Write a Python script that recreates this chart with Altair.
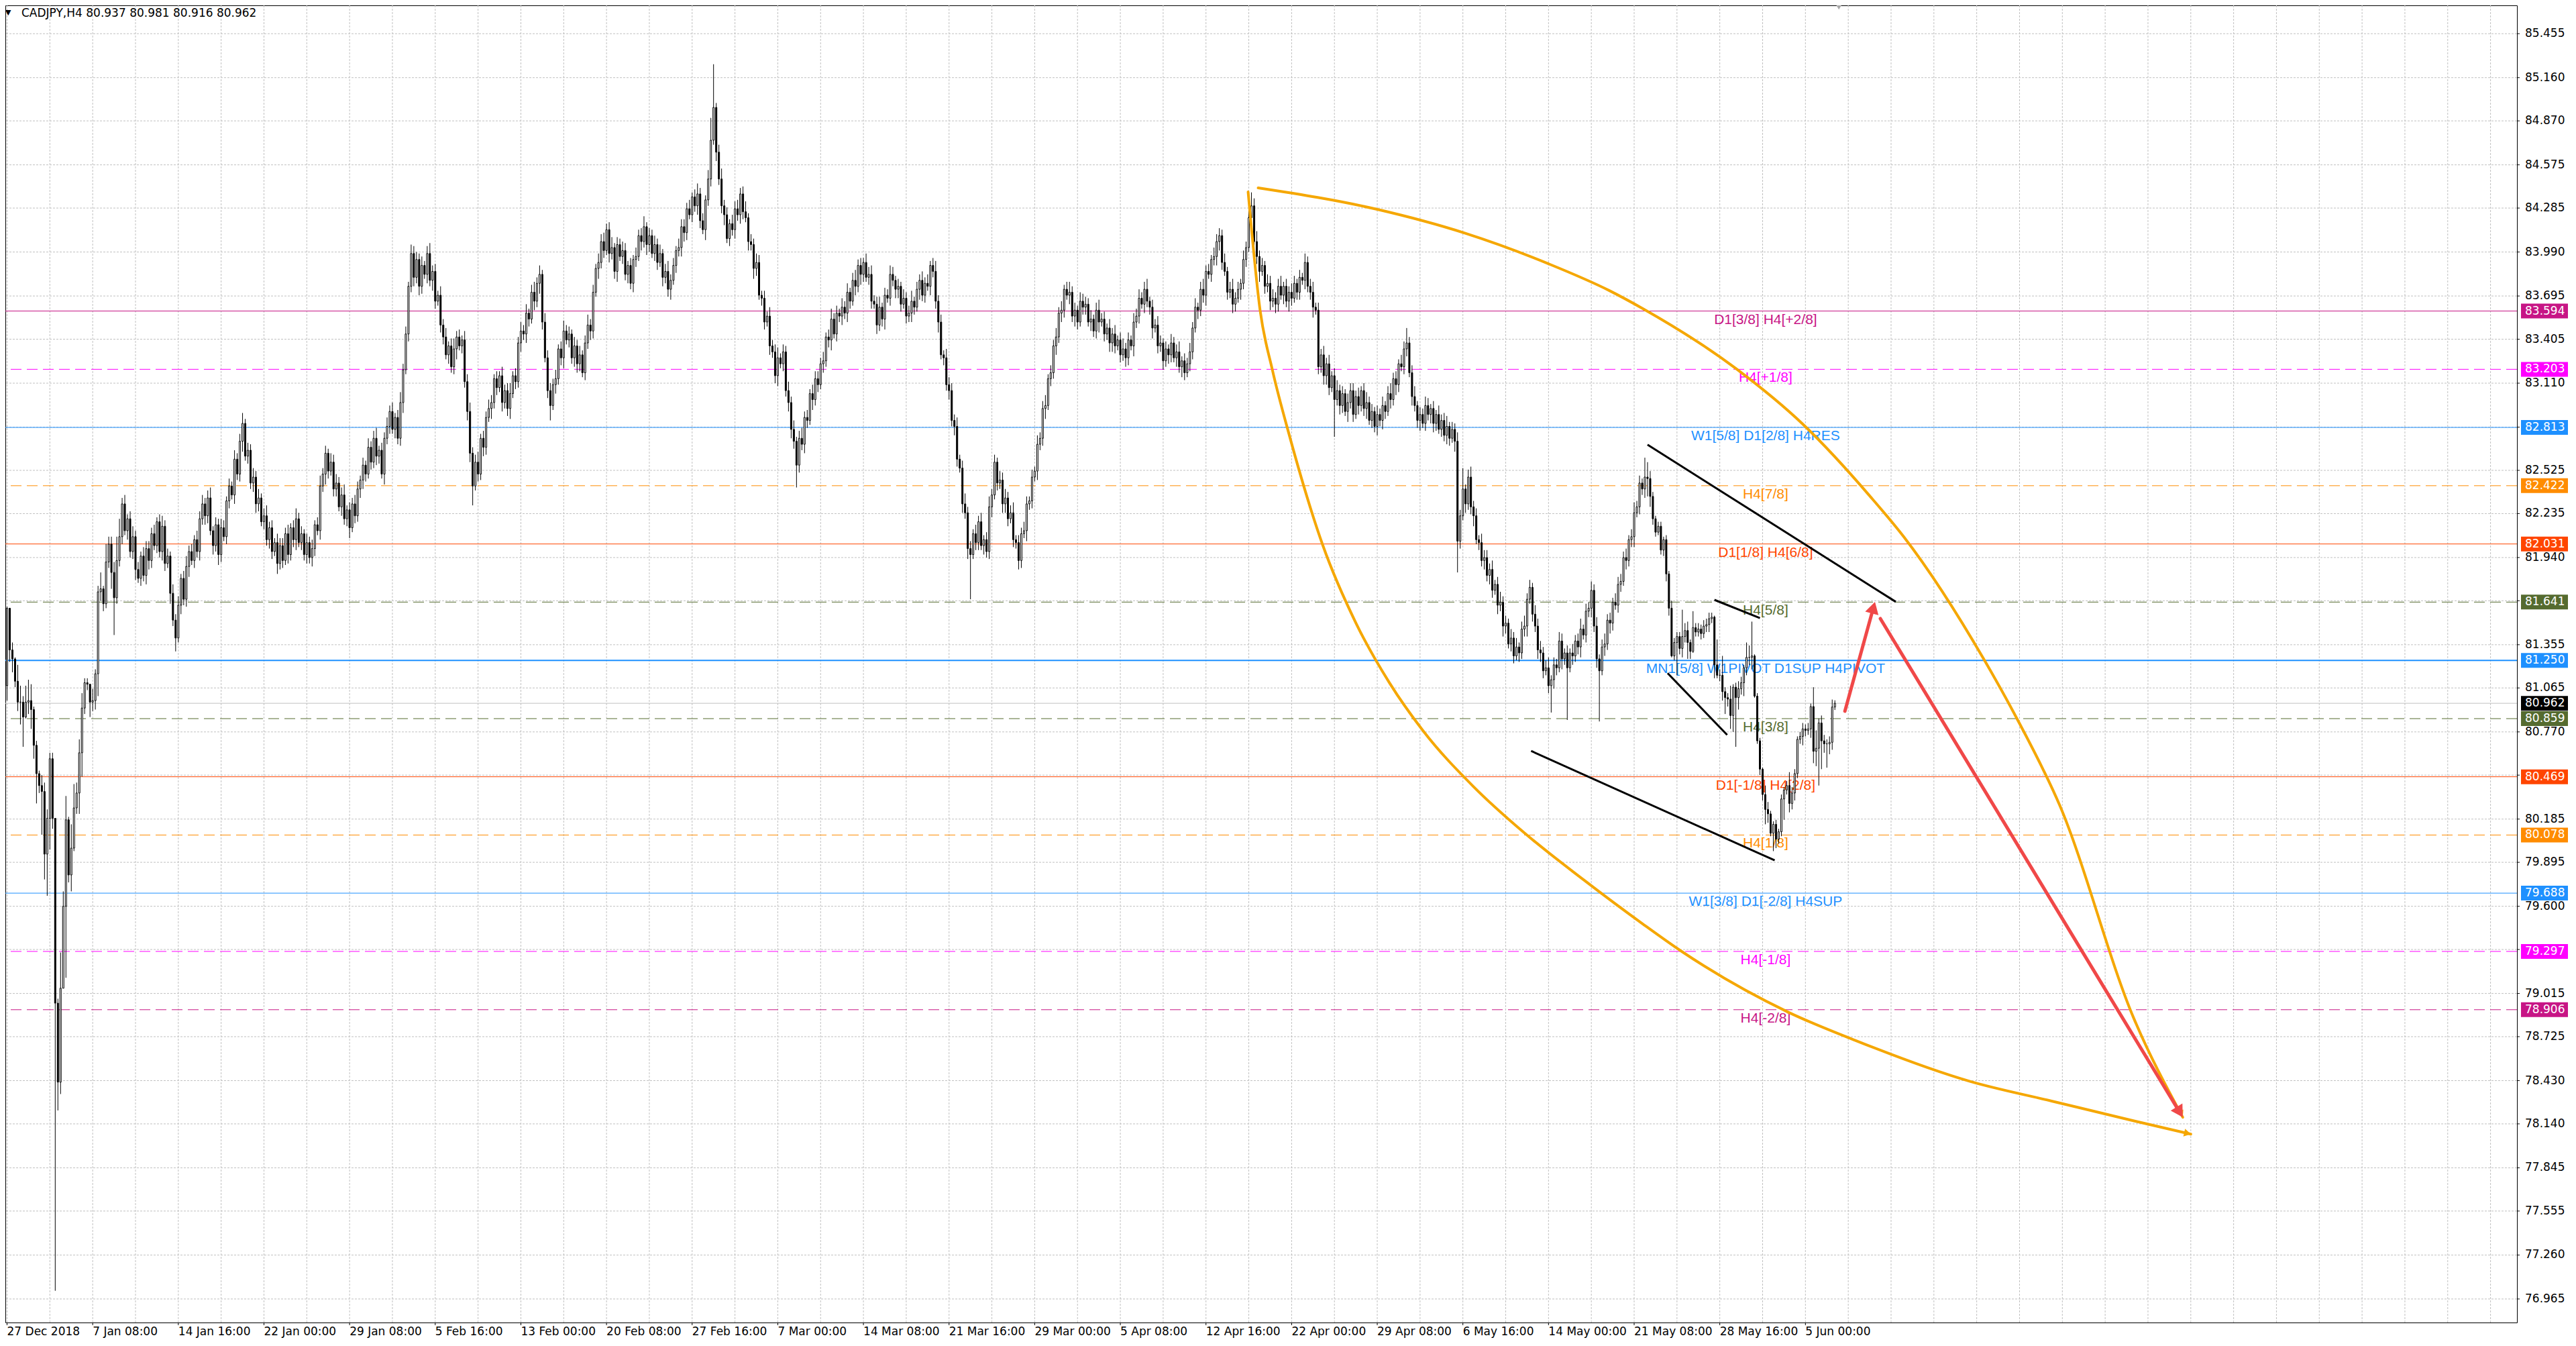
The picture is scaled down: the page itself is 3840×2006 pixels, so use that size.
import math
import altair as alt
import pandas as pd

# ------------------------------------------------------------------ data
title_text = "CADJPY,H4  80.937 80.981 80.916 80.962"

first_open = 81.08
closes = [
    81.60, 81.32, 81.26, 81.11, 80.97, 80.97, 80.87, 80.97, 80.98, 80.92,
    80.68, 80.49, 80.41, 80.37, 79.95, 80.19, 80.59, 80.19, 78.95, 78.42,
    79.05, 79.60, 80.18, 79.81, 79.99, 80.26, 80.36, 80.63, 80.93, 81.10,
    81.09, 80.97, 80.98, 81.16, 81.71, 81.73, 81.63, 81.91, 82.03, 81.84,
    81.67, 81.92, 82.08,
    82.30, 82.12, 82.20, 81.98, 82.08, 81.86, 81.80, 81.95, 81.82, 82.00,
    81.92, 82.10, 82.02, 82.18, 81.98, 82.15, 81.90, 81.95, 81.70, 81.52,
    81.40, 81.62, 81.80, 81.66, 81.88, 81.98, 81.92, 82.06, 81.98, 82.20,
    82.30, 82.22, 82.34, 82.12, 82.02, 82.16, 81.96, 82.14, 82.08, 82.32,
    82.42, 82.36, 82.60, 82.50, 82.72, 82.84, 82.62, 82.66, 82.44, 82.48,
    82.30, 82.34, 82.18, 82.22, 82.06, 82.14, 81.98, 82.04, 81.90, 82.02,
    81.92, 82.10, 81.96, 82.14, 82.06, 82.20, 82.04, 82.10, 81.96, 82.04,
    81.94, 82.00, 82.16, 82.12, 82.42, 82.50, 82.64, 82.52, 82.58, 82.40,
    82.44, 82.28, 82.36, 82.20, 82.26, 82.14, 82.30, 82.22, 82.40, 82.46,
    82.56, 82.50, 82.68, 82.58, 82.74, 82.62, 82.66, 82.50, 82.74, 82.82,
    82.92, 82.80, 82.88, 82.74, 82.98, 83.20, 83.44, 83.76, 83.98, 83.82,
    83.94, 83.76, 83.90, 83.84, 83.98, 83.80, 83.86, 83.66, 83.70, 83.50,
    83.42, 83.30, 83.36, 83.22, 83.34, 83.42, 83.36, 83.40, 83.12, 82.92,
    82.64, 82.42, 82.58, 82.50, 82.74, 82.68, 82.88, 82.94, 82.98, 83.14,
    83.08, 83.16, 82.98, 83.06, 82.94, 83.04, 83.16, 83.12, 83.38, 83.46,
    83.44, 83.58, 83.54, 83.72, 83.66, 83.78, 83.84, 83.52, 83.28, 83.06,
    82.96, 83.10, 83.14, 83.34, 83.28, 83.46, 83.40, 83.44, 83.28, 83.36,
    83.24, 83.30, 83.18, 83.38, 83.50, 83.46, 83.72, 83.88, 83.92, 84.06,
    84.00, 84.14, 83.98, 84.02, 83.86, 84.04, 83.96, 84.00, 83.84, 83.90,
    83.78, 83.94, 83.96, 84.10, 84.06, 84.16, 84.04, 84.10, 83.98, 84.04,
    83.92, 83.98, 83.82, 83.86, 83.74, 83.80, 83.90, 84.00, 84.02, 84.16,
    84.12, 84.28, 84.24, 84.36, 84.30, 84.38, 84.20, 84.14, 84.34, 84.48,
    84.74, 84.96, 84.66, 84.48, 84.30, 84.24, 84.08, 84.18, 84.14, 84.28,
    84.24, 84.38, 84.26, 84.22, 84.06, 84.04, 83.88, 83.92, 83.70, 83.68,
    83.52, 83.56, 83.36, 83.32, 83.16, 83.28, 83.24, 83.32, 83.06, 82.98,
    82.80, 82.72, 82.56, 82.74, 82.70, 82.88, 82.86, 83.04, 83.00, 83.14,
    83.10, 83.24, 83.26, 83.42, 83.40, 83.54, 83.44, 83.58, 83.56, 83.62,
    83.58, 83.72, 83.66, 83.80, 83.76, 83.90, 83.84, 83.92, 83.82, 83.84,
    83.66, 83.64, 83.50, 83.62, 83.54, 83.70, 83.68, 83.84, 83.80, 83.74,
    83.76, 83.64, 83.68, 83.56, 83.58, 83.66, 83.62, 83.74, 83.80, 83.70,
    83.78, 83.76, 83.90, 83.86, 83.66, 83.52, 83.30, 83.28, 83.10, 83.06,
    82.86, 82.82, 82.60, 82.54, 82.30, 82.24, 82.00, 81.96, 82.10, 82.04,
    82.18, 82.02, 82.06, 81.98, 82.28, 82.36, 82.58, 82.44, 82.46, 82.30,
    82.34, 82.20, 82.24, 82.06, 82.04, 81.92, 82.10, 82.12, 82.30, 82.32,
    82.48, 82.52, 82.70, 82.74, 82.94, 82.96, 83.14, 83.18, 83.36, 83.42,
    83.58, 83.60, 83.74, 83.70, 83.72, 83.56, 83.60, 83.52, 83.66, 83.62,
    83.64, 83.52, 83.54, 83.46, 83.60, 83.52, 83.54, 83.44, 83.48, 83.38,
    83.44, 83.36, 83.40, 83.30, 83.34, 83.28, 83.40, 83.36, 83.52, 83.56,
    83.68, 83.64, 83.74, 83.66, 83.62, 83.48, 83.50, 83.36, 83.38, 83.26,
    83.34, 83.30, 83.38, 83.28, 83.32, 83.22, 83.26, 83.18, 83.24, 83.32,
    83.48, 83.62, 83.60, 83.74, 83.70, 83.86, 83.84, 83.94, 83.96, 84.06,
    84.10, 83.92, 83.86, 83.72, 83.74, 83.64, 83.68, 83.74, 83.78, 83.94,
    84.02, 84.22, 84.30, 84.06, 83.96, 83.86, 83.90, 83.76, 83.78, 83.66,
    83.68, 83.64, 83.76, 83.70, 83.76, 83.66, 83.72, 83.68, 83.78, 83.72,
    83.82, 83.80, 83.92, 83.76, 83.72, 83.62, 83.60, 83.22, 83.30, 83.16,
    83.24, 83.08, 83.16, 83.00, 83.06, 82.96, 83.04, 82.92, 82.98, 83.06,
    82.90, 83.02, 82.96, 83.06, 82.94, 82.98, 82.86, 82.92, 82.82, 82.90,
    82.86, 82.96, 82.92, 83.04, 83.00, 83.14, 83.10, 83.24, 83.22, 83.34,
    83.38, 83.18, 83.02, 82.96, 82.86, 82.90, 82.84, 82.96, 82.90, 82.94,
    82.84, 82.90, 82.80, 82.86, 82.76, 82.82, 82.74, 82.80, 82.72, 82.05,
    82.22, 82.40, 82.30, 82.48, 82.28, 82.22, 82.06, 82.04, 81.92, 81.94,
    81.82, 81.86, 81.72, 81.76, 81.62, 81.64, 81.48, 81.50, 81.36, 81.40,
    81.28, 81.34, 81.30, 81.46, 81.48, 81.66, 81.74, 81.56, 81.48, 81.32,
    81.30, 81.18, 81.20, 81.08, 81.12, 81.22, 81.20, 81.38, 81.26, 81.30,
    81.20, 81.30, 81.28, 81.38, 81.34, 81.46, 81.42, 81.58, 81.60, 81.72,
    81.48, 81.26, 81.18, 81.34, 81.36, 81.52, 81.50, 81.64, 81.62, 81.76,
    81.78, 81.94, 81.92, 82.06, 82.08, 82.24, 82.28, 82.44, 82.40, 82.48,
    82.47, 82.35, 82.20, 82.11, 82.15, 81.99, 82.06, 81.83, 81.60, 81.28,
    81.37, 81.41, 81.33, 81.41, 81.45, 81.37, 81.31, 81.47, 81.44, 81.46,
    81.43, 81.48, 81.49, 81.53, 81.54, 81.22, 81.15, 81.15, 81.04, 81.00,
    80.99, 80.88, 81.07, 81.00, 81.06, 81.10, 81.20, 81.27, 81.27, 81.28,
    81.01, 80.71, 80.52, 80.35, 80.25, 80.22, 80.09, 80.15, 80.05, 80.10,
    80.32, 80.38, 80.41, 80.29, 80.36, 80.49, 80.72, 80.74, 80.79, 80.78,
    80.79, 80.94, 80.64, 80.66, 80.83, 80.71, 80.69, 80.69, 80.70, 80.937,
    80.962,
]

# wick lengths above / below the body, in hundredths of a yen
wick_up = [
    1, 0, 5, 1, 11, 11, 4, 11, 14, 11, 2, 3, 2, 7, 6, 6, 4, 4, 0, 3,
    24, 10, 16, 2, 16, 16, 7, 9, 10, 3, 3, 0, 8, 3, 4, 11, 2, 12, 5, 5,
    7, 16, 12,
    4, 6, 3, 5, 7, 4, 5, 3, 6, 5,
    5, 4, 6, 3, 5, 7, 4, 5, 3, 6,
    4, 6, 3, 5, 7, 4, 5, 3, 6, 5,
    6, 4, 5, 7, 3, 5, 4, 6, 5, 3,
    5, 3, 6, 4, 5, 7, 3, 5, 4, 6,
    4, 6, 3, 5, 7, 4, 5, 3, 6, 5,
    5, 4, 6, 3, 5, 7, 4, 5, 3, 6,
    4, 6, 3, 5, 7, 4, 5, 3, 6, 5,
    6, 4, 5, 7, 3, 5, 4, 6, 5, 3,
    5, 3, 6, 4, 5, 7, 3, 5, 4, 6,
    4, 6, 3, 5, 7, 4, 5, 3, 6, 5,
    5, 4, 6, 3, 5, 7, 4, 5, 3, 6,
    4, 6, 3, 5, 7, 4, 5, 3, 6, 5,
    6, 4, 5, 7, 3, 5, 4, 6, 5, 3,
    5, 3, 6, 4, 5, 7, 3, 5, 4, 6,
    4, 6, 3, 5, 7, 4, 6, 3, 6, 5,
    5, 4, 6, 3, 5, 7, 4, 5, 3, 6,
    4, 6, 3, 5, 7, 4, 5, 3, 6, 5,
    6, 4, 5, 7, 3, 5, 4, 6, 5, 3,
    5, 3, 6, 4, 5, 7, 3, 5, 4, 6,
    4, 6, 3, 5, 7, 4, 5, 3, 6, 5,
    5, 4, 6, 3, 5, 7, 4, 5, 3, 6,
    15, 29, 3, 5, 7, 4, 5, 3, 6, 5,
    6, 4, 5, 7, 3, 5, 4, 6, 5, 3,
    5, 3, 6, 4, 5, 7, 3, 5, 4, 6,
    4, 6, 3, 5, 7, 4, 5, 3, 6, 5,
    5, 4, 6, 3, 5, 7, 4, 5, 3, 6,
    4, 6, 3, 5, 7, 4, 5, 3, 6, 5,
    6, 4, 5, 7, 3, 5, 4, 6, 5, 3,
    5, 3, 6, 4, 5, 7, 3, 5, 4, 6,
    4, 6, 3, 5, 7, 4, 5, 3, 6, 5,
    5, 4, 6, 3, 5, 7, 4, 5, 3, 6,
    4, 6, 3, 5, 7, 4, 5, 3, 6, 5,
    6, 4, 5, 7, 3, 5, 4, 6, 5, 3,
    5, 3, 6, 4, 5, 7, 3, 5, 4, 6,
    4, 6, 3, 5, 7, 4, 5, 3, 6, 5,
    5, 4, 6, 3, 5, 7, 4, 5, 3, 6,
    4, 6, 3, 5, 7, 4, 5, 3, 6, 5,
    6, 4, 5, 7, 3, 5, 4, 6, 5, 3,
    5, 3, 6, 4, 5, 7, 3, 5, 4, 6,
    4, 6, 3, 5, 7, 4, 5, 3, 6, 5,
    5, 4, 6, 3, 5, 7, 4, 5, 3, 6,
    4, 6, 9, 5, 7, 4, 5, 3, 6, 5,
    6, 4, 5, 7, 3, 5, 4, 6, 5, 3,
    5, 3, 6, 4, 5, 7, 3, 5, 4, 6,
    4, 6, 3, 5, 7, 4, 5, 3, 6, 5,
    5, 4, 6, 3, 5, 7, 4, 5, 3, 6,
    4, 6, 3, 5, 7, 4, 5, 3, 6, 5,
    10, 4, 5, 7, 3, 5, 4, 6, 5, 3,
    5, 3, 6, 4, 5, 7, 3, 5, 4, 6,
    4, 14, 3, 5, 7, 4, 5, 3, 6, 5,
    5, 4, 6, 3, 5, 7, 4, 5, 3, 6,
    4, 6, 3, 5, 7, 4, 5, 3, 6, 5,
    6, 4, 5, 7, 3, 5, 4, 6, 5, 3,
    5, 3, 6, 4, 5, 7, 3, 5, 4, 6,
    4, 6, 3, 5, 7, 4, 5, 3, 6, 5,
    5, 4, 6, 3, 5, 7, 4, 5, 3, 13,
    10, 5, 3, 2, 3, 3, 2, 3, 2, 5,
    3, 3, 3, 18, 5, 6, 2, 11, 3, 4,
    3, 4, 4, 4, 3, 1, 17, 4, 13, 3,
    3, 9, 2, 3, 5, 4, 2, 10, 8, 23,
    1, 2, 2, 1, 6, 5, 2, 2, 3, 2,
    3, 2, 3, 9, 4, 3, 2, 3, 4, 3,
    4, 2, 13, 12, 3, 5, 4, 3, 4, 5, 2,
]
wick_down = [
    10, 8, 9, 4, 6, 15, 20, 1, 8, 13, 9, 20, 5, 29, 17, 28, 21, 7, 193, 19,
    8, 0, 48, 5, 11, 2, 4, 14, 16, 4, 4, 10, 6, 6, 15, 6, 5, 3, 4, 11,
    25, 4, 4,
    5, 3, 6, 4, 5, 7, 3, 5, 4, 6,
    6, 5, 3, 5, 4, 6, 5, 3, 7, 4,
    9, 3, 6, 4, 5, 7, 3, 5, 4, 6,
    4, 6, 5, 3, 6, 4, 7, 5, 3, 5,
    5, 3, 6, 4, 5, 7, 3, 5, 4, 6,
    6, 5, 3, 5, 4, 6, 5, 3, 7, 4,
    5, 3, 6, 4, 5, 7, 3, 5, 4, 6,
    4, 6, 5, 3, 6, 4, 7, 5, 3, 5,
    5, 3, 6, 4, 5, 7, 3, 5, 4, 6,
    6, 5, 3, 5, 4, 6, 5, 3, 7, 4,
    5, 3, 6, 4, 5, 7, 3, 5, 4, 6,
    4, 6, 5, 3, 6, 4, 7, 5, 3, 5,
    5, 3, 6, 4, 5, 7, 3, 5, 4, 6,
    6, 13, 3, 5, 4, 6, 5, 3, 7, 4,
    5, 3, 6, 4, 5, 7, 3, 5, 4, 6,
    4, 6, 5, 3, 6, 4, 7, 5, 3, 5,
    10, 3, 6, 4, 5, 7, 3, 5, 4, 6,
    6, 5, 3, 5, 4, 6, 5, 3, 7, 4,
    5, 3, 6, 4, 5, 7, 3, 5, 4, 6,
    4, 6, 5, 3, 6, 4, 7, 5, 3, 5,
    5, 3, 6, 4, 5, 7, 3, 5, 4, 6,
    6, 5, 3, 5, 4, 6, 5, 3, 7, 4,
    5, 3, 6, 4, 5, 7, 3, 5, 4, 6,
    4, 6, 5, 3, 6, 4, 7, 5, 3, 5,
    5, 3, 6, 4, 5, 7, 3, 5, 4, 6,
    6, 5, 15, 5, 4, 6, 5, 3, 7, 4,
    5, 3, 6, 4, 5, 7, 3, 5, 4, 6,
    4, 6, 5, 3, 6, 4, 7, 5, 3, 5,
    5, 3, 6, 4, 5, 7, 3, 5, 4, 6,
    6, 5, 3, 5, 4, 6, 5, 3, 7, 4,
    5, 3, 6, 4, 5, 7, 3, 5, 4, 6,
    4, 6, 5, 3, 6, 4, 7, 30, 3, 5,
    5, 3, 6, 4, 5, 7, 3, 5, 4, 6,
    6, 5, 3, 5, 4, 6, 5, 3, 7, 4,
    5, 3, 6, 4, 5, 7, 3, 5, 4, 6,
    4, 6, 5, 3, 6, 4, 7, 5, 3, 5,
    5, 3, 6, 4, 5, 7, 3, 5, 4, 6,
    6, 5, 3, 5, 4, 6, 5, 3, 7, 4,
    5, 3, 6, 4, 5, 7, 3, 5, 4, 6,
    4, 6, 5, 3, 6, 4, 7, 5, 3, 5,
    5, 3, 6, 4, 5, 7, 3, 5, 4, 6,
    6, 5, 3, 5, 4, 6, 5, 3, 7, 4,
    5, 3, 6, 4, 5, 7, 3, 5, 4, 6,
    4, 6, 5, 3, 6, 4, 7, 5, 3, 5,
    5, 3, 6, 4, 5, 7, 3, 5, 4, 6,
    6, 5, 3, 25, 4, 6, 5, 3, 7, 4,
    5, 3, 6, 4, 5, 7, 3, 5, 4, 6,
    4, 6, 5, 3, 6, 4, 7, 5, 3, 5,
    5, 3, 6, 4, 5, 7, 3, 5, 4, 6,
    6, 5, 3, 5, 4, 6, 5, 3, 7, 21,
    5, 3, 6, 4, 5, 7, 3, 5, 4, 6,
    4, 6, 5, 3, 6, 4, 7, 5, 3, 5,
    5, 3, 6, 4, 5, 7, 3, 5, 4, 6,
    6, 5, 3, 5, 18, 6, 5, 3, 7, 4,
    35, 3, 6, 4, 5, 7, 3, 5, 4, 6,
    4, 6, 34, 3, 6, 4, 7, 5, 3, 5,
    5, 3, 6, 4, 5, 7, 3, 5, 4, 6,
    12, 7, 4, 3, 2, 3, 4, 5, 5, 1,
    3, 22, 4, 6, 4, 11, 5, 1, 3, 3,
    4, 3, 4, 5, 3, 9, 2, 4, 6, 11,
    5, 9, 11, 33, 8, 4, 9, 5, 5, 8,
    1, 2, 4, 4, 10, 6, 2, 12, 6, 3,
    3, 14, 3, 6, 4, 5, 3, 3, 6, 4,
    3, 6, 8, 10, 25, 19, 6, 16, 7, 5, 2,
]

time_labels = [
    "27 Dec 2018", "7 Jan 08:00", "14 Jan 16:00", "22 Jan 00:00", "29 Jan 08:00",
    "5 Feb 16:00", "13 Feb 00:00", "20 Feb 08:00", "27 Feb 16:00", "7 Mar 00:00",
    "14 Mar 08:00", "21 Mar 16:00", "29 Mar 00:00", "5 Apr 08:00", "12 Apr 16:00",
    "22 Apr 00:00", "29 Apr 08:00", "6 May 16:00", "14 May 00:00", "21 May 08:00",
    "28 May 16:00", "5 Jun 00:00",
]
bars_per_label = 32
bars_per_grid = 16

price_ticks = [85.455, 85.160, 84.870, 84.575, 84.285, 83.990, 83.695, 83.405,
               83.110, 82.815, 82.525, 82.235, 81.940, 81.650, 81.355, 81.065,
               80.770, 80.480, 80.185, 79.895, 79.600, 79.310, 79.015, 78.725,
               78.430, 78.140, 77.845, 77.555, 77.260, 76.965]

level_prices = [83.594, 83.203, 82.813, 82.422, 82.031, 81.641, 81.250,
                80.962, 80.859, 80.469, 80.078, 79.688, 79.297, 78.906]
level_names = ["D1[3/8] H4[+2/8]", "H4[+1/8]", "W1[5/8] D1[2/8] H4RES", "H4[7/8]",
               "D1[1/8] H4[6/8]", "H4[5/8]", "MN1[5/8] W1PIVOT D1SUP H4PIVOT", "",
               "H4[3/8]", "D1[-1/8] H4[2/8]", "H4[1/8]", "W1[3/8] D1[-2/8] H4SUP",
               "H4[-1/8]", "H4[-2/8]"]
level_line_colors = ["#C71585", "#FF00FF", "#1E90FF", "#FF8C00", "#FF4500", "#556B2F",
                     "#1E90FF", "#C0C0C0", "#556B2F", "#FF4500", "#FF8C00", "#1E90FF",
                     "#FF00FF", "#C71585"]
level_box_colors = ["#C71585", "#FF00FF", "#1E90FF", "#FF8C00", "#FF4500", "#556B2F",
                    "#1E90FF", "#000000", "#556B2F", "#FF4500", "#FF8C00", "#1E90FF",
                    "#FF00FF", "#C71585"]
level_dashed = [False, True, False, True, False, True, False,
                False, True, False, True, False, True, True]
level_widths = [1, 1, 1, 1, 1, 1, 2, 1, 1, 1, 1, 1, 1, 1]

# hand-drawn objects, in (bar index, price)
trend_x1 = [613.0, 638.0, 620.5, 569.5]
trend_y1 = [82.697, 81.656, 81.164, 80.642]
trend_x2 = [705.75, 655.0, 642.75, 660.5]
trend_y2 = [81.643, 81.534, 80.750, 79.908]

arc1_bars = [467.5, 512.0, 544.5, 576.0, 598.75, 611.25, 646.25, 671.25, 696.25,
             708.75, 738.75, 750.5, 767.0, 794.75, 813.0]
arc1_prices = [84.420, 84.276, 84.118, 83.911, 83.731, 83.610, 83.205, 82.831, 82.349,
               82.079, 81.255, 80.877, 80.278, 78.846, 78.184]
arc2_bars = [463.75, 468.25, 472.75, 479.25, 491.6, 504.1, 516.6, 529.1, 547.9, 566.6,
             589.1, 611.25, 625.5, 665.5, 690.5, 733.5, 764.0, 794.75, 816.0]
arc2_prices = [84.393, 83.596, 83.204, 82.754, 82.025, 81.498, 81.098, 80.778, 80.404,
               80.098, 79.778, 79.481, 79.300, 78.890, 78.701, 78.425, 78.293, 78.160,
               78.071]

arrow_x1 = [686.75, 700.0]
arrow_y1 = [80.909, 81.530]
arrow_x2 = [698.0, 813.0]
arrow_y2 = [81.643, 78.184]

# ------------------------------------------------------------------ layout
W, H = 3744, 1963
X_MIN, X_MAX = 0.625, 936.625
Y_MIN, Y_MAX = 76.807, 85.645
PX_BAR = W / (X_MAX - X_MIN)
PX_PRICE = H / (Y_MAX - Y_MIN)
LABEL_BAR = 657.1

AXIS_FONT = "DejaVu Sans"
AXIS_SIZE = 17
LABEL_FONT = "Liberation Sans"
ORANGE = "#F5A700"
RED = "#F04848"

assert len(closes) == len(wick_up) == len(wick_down)

xs = alt.Scale(domain=[X_MIN, X_MAX], nice=False, zero=False)
ys = alt.Scale(domain=[Y_MIN, Y_MAX], nice=False, zero=False)


def X(field):
    return alt.X(field, type="quantitative", scale=xs, axis=None, title=None)


def Y(field):
    return alt.Y(field, type="quantitative", scale=ys, axis=None, title=None)


# candles table
opens = [first_open] + closes[:-1]
rows = []
for i, (o, c, u, d) in enumerate(zip(opens, closes, wick_up, wick_down)):
    rows.append({"bar": i, "open": o, "close": c,
                 "high": max(o, c) + u / 100.0, "low": min(o, c) - d / 100.0,
                 "fill": "white" if c > o else "black"})
candles = pd.DataFrame(rows)

hgrid = pd.DataFrame({"price": price_ticks,
                      "txt": [f"{v:.3f}" for v in price_ticks]})
vgrid = pd.DataFrame({"bar": list(range(0, int(X_MAX) + 1, bars_per_grid))})

levels = pd.DataFrame({"price": level_prices, "name": level_names,
                       "line": level_line_colors, "box": level_box_colors,
                       "dashed": level_dashed, "w": level_widths})
levels["top"] = levels["price"] + 11 / PX_PRICE
levels["bot"] = levels["price"] - 11 / PX_PRICE
levels["txt"] = levels["price"].map(lambda v: f"{v:.3f}")
levels["lx"] = LABEL_BAR
solid_lv = levels[~levels["dashed"]]
dash_lv = levels[levels["dashed"]]
thin_solid = solid_lv[solid_lv["w"] == 1]
thick_solid = solid_lv[solid_lv["w"] == 2]
named = levels[levels["name"] != ""]

grid_h = alt.Chart(hgrid).mark_rule(color="#C0C0C0", strokeDash=[3, 2], strokeWidth=1).encode(
    y=Y("price"))
grid_v = alt.Chart(vgrid).mark_rule(color="#C0C0C0", strokeDash=[3, 2], strokeWidth=1,
                                    clip=True).encode(x=X("bar"))

# right price scale (tick marks + labels)
price_tick_marks = alt.Chart(hgrid).mark_rule(color="black", strokeWidth=1).encode(
    x=alt.value(W), x2=alt.value(W + 4), y=Y("price"))
price_tick_text = alt.Chart(hgrid).mark_text(font=AXIS_FONT, fontSize=AXIS_SIZE,
                                             align="left", baseline="middle",
                                             color="black").encode(
    x=alt.value(W + 12), y=Y("price"), text="txt:N")

lines_thin = alt.Chart(thin_solid).mark_rule(strokeWidth=1).encode(
    y=Y("price"), color=alt.Color("line:N", scale=None, legend=None))
lines_thick = alt.Chart(thick_solid).mark_rule(strokeWidth=2).encode(
    y=Y("price"), color=alt.Color("line:N", scale=None, legend=None))
lines_dash = alt.Chart(dash_lv).mark_rule(strokeWidth=1, strokeDash=[16, 8]).encode(
    y=Y("price"), color=alt.Color("line:N", scale=None, legend=None))

level_text = alt.Chart(named).mark_text(font=LABEL_FONT, fontSize=21, align="center",
                                        baseline="top", dy=2).encode(
    x=X("lx"), y=Y("price"), text="name:N",
    color=alt.Color("line:N", scale=None, legend=None))

wicks = alt.Chart(candles).mark_rule(color="black", strokeWidth=1, clip=True).encode(
    x=X("bar"), y=Y("low"), y2="high")
bodies = alt.Chart(candles).mark_bar(width=2, stroke="black", strokeWidth=1, clip=True).encode(
    x=X("bar"), y=Y("open"), y2="close",
    fill=alt.Fill("fill:N", scale=None, legend=None))

trend_df = pd.DataFrame({"x1": trend_x1, "y1": trend_y1, "x2": trend_x2, "y2": trend_y2})
trend = alt.Chart(trend_df).mark_rule(color="black", strokeWidth=3).encode(
    x=X("x1"), y=Y("y1"), x2="x2", y2="y2")

arcs = pd.DataFrame({
    "bar": arc1_bars + arc2_bars,
    "price": arc1_prices + arc2_prices,
    "arc": ["a"] * len(arc1_bars) + ["b"] * len(arc2_bars),
    "k": list(range(len(arc1_bars))) + list(range(len(arc2_bars))),
})
arc_lines = alt.Chart(arcs).mark_line(color=ORANGE, strokeWidth=4, interpolate="monotone",
                                      strokeCap="round").encode(
    x=X("bar"), y=Y("price"), detail="arc:N", order="k:Q")


def head(x1, y1, x2, y2, back):
    dx = (x2 - x1) * PX_BAR
    dy = (y1 - y2) * PX_PRICE          # screen-down positive
    ln = math.hypot(dx, dy)
    ux, uy = dx / ln, dy / ln
    ang = math.degrees(math.atan2(dx, -dy)) % 360
    return x2 - ux * back / PX_BAR, y2 + uy * back / PX_PRICE, ang


shaft_rows, head_rows = [], []
for x1, y1, x2, y2 in zip(arrow_x1, arrow_y1, arrow_x2, arrow_y2):
    hx, hy, ang = head(x1, y1, x2, y2, 9)
    shaft_rows.append({"x1": x1, "y1": y1, "x2": hx, "y2": hy})
    head_rows.append({"x": hx, "y": hy, "ang": ang})
shafts = alt.Chart(pd.DataFrame(shaft_rows)).mark_rule(color=RED, strokeWidth=5,
                                                       strokeCap="round").encode(
    x=X("x1"), y=Y("y1"), x2="x2", y2="y2")
heads = alt.Chart(pd.DataFrame(head_rows)).mark_point(shape="triangle-up", filled=True,
                                                      color=RED, opacity=1, size=420).encode(
    x=X("x"), y=Y("y"), angle=alt.Angle("ang:Q", scale=None))

arc_head_rows = []
for bl, pl in ((arc1_bars, arc1_prices), (arc2_bars, arc2_prices)):
    hx, hy, ang = head(bl[-2], pl[-2], bl[-1], pl[-1], 5)
    arc_head_rows.append({"x": hx, "y": hy, "ang": ang})
arc_heads = alt.Chart(pd.DataFrame(arc_head_rows)).mark_point(
    shape="triangle-up", filled=True, color=ORANGE, opacity=1, size=140).encode(
    x=X("x"), y=Y("y"), angle=alt.Angle("ang:Q", scale=None))

boxes = alt.Chart(levels).mark_rect().encode(
    x=alt.value(W + 6), x2=alt.value(W + 76), y=Y("top"), y2="bot",
    color=alt.Color("box:N", scale=None, legend=None))
box_text = alt.Chart(levels).mark_text(font=AXIS_FONT, fontSize=AXIS_SIZE, align="left",
                                       baseline="middle", color="white").encode(
    x=alt.value(W + 12), y=Y("price"), text="txt:N")

tdf = pd.DataFrame({"bar": [i * bars_per_label for i in range(len(time_labels))],
                    "label": time_labels})
time_text = alt.Chart(tdf).mark_text(font=AXIS_FONT, fontSize=AXIS_SIZE, align="left",
                                     baseline="middle", color="black").encode(
    x=X("bar"), y=alt.value(H + 14), text="label:N")
time_ticks = alt.Chart(tdf).mark_rule(color="black").encode(
    x=X("bar"), y=alt.value(H), y2=alt.value(H + 4))

hdr = pd.DataFrame({"t": [title_text], "tri": ["\u25BC"]})
header = alt.Chart(hdr).mark_text(font=AXIS_FONT, fontSize=AXIS_SIZE, align="left",
                                  baseline="middle", color="black").encode(
    x=alt.value(24), y=alt.value(12), text="t:N")
header_tri = alt.Chart(hdr).mark_text(font=AXIS_FONT, fontSize=11, align="left",
                                      baseline="middle", color="black").encode(
    x=alt.value(0), y=alt.value(11), text="tri:N")
shift_df = pd.DataFrame({"bar": [len(closes) + 0.5]})
shift_mark = alt.Chart(shift_df).mark_point(shape="triangle-down", filled=True,
                                            color="#A8A8A8", opacity=1, size=60).encode(
    x=X("bar"), y=alt.value(3))

chart = alt.layer(
    grid_h, grid_v, lines_thin, lines_thick, lines_dash, level_text, wicks, bodies, trend,
    arc_lines, arc_heads, shafts, heads, price_tick_marks, price_tick_text, boxes, box_text,
    time_ticks, time_text, header, header_tri, shift_mark,
).properties(
    width=W, height=H,
    autosize=alt.AutoSizeParams(type="none"),
    padding={"left": 0, "top": 0, "right": 78, "bottom": 24},
    background="white",
).configure_view(stroke="black", strokeWidth=1)

chart.save("out.html", embed_options={"renderer": "svg", "actions": False})
